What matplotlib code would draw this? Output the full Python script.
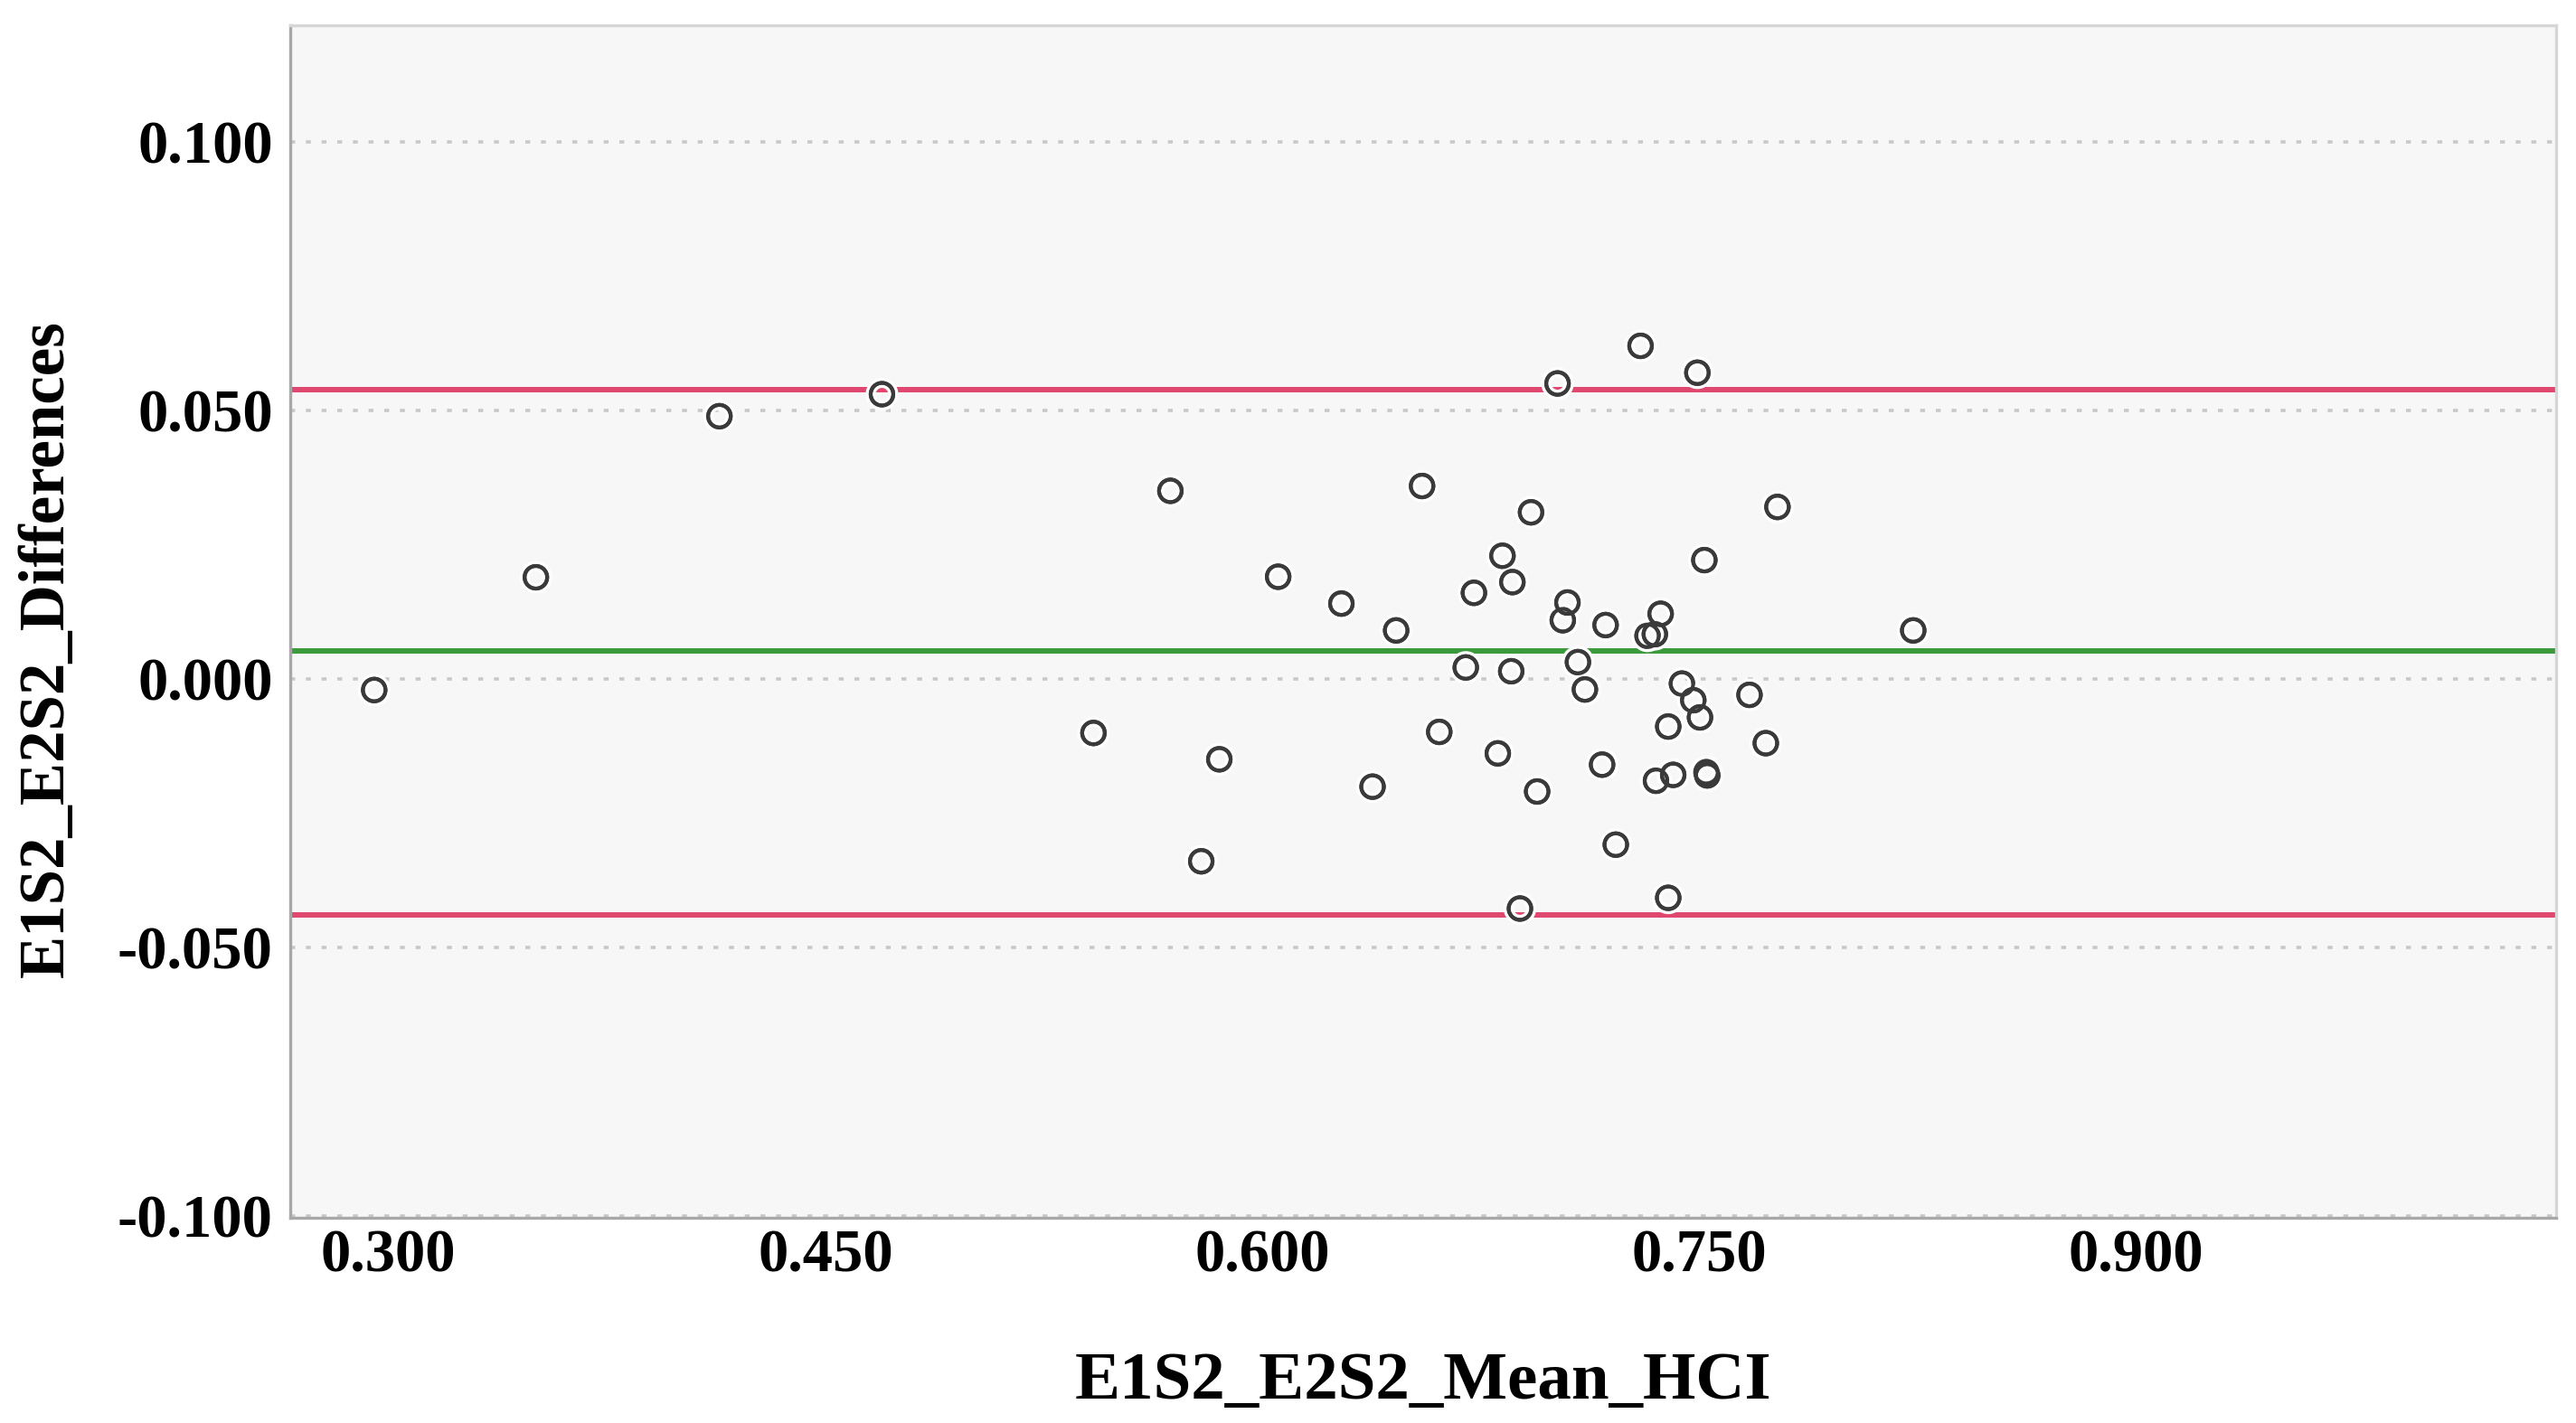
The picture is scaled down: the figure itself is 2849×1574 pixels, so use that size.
import matplotlib
matplotlib.use("Agg")
import matplotlib.pyplot as plt
import matplotlib.patheffects as pe

# Bland-Altman data
mean_hci = [0.2951, 0.3506, 0.4136, 0.4694, 0.5420, 0.5684, 0.5790, 0.5852, 0.6054, 0.6271,
            0.6378, 0.6459, 0.6548, 0.6607, 0.6698, 0.6726, 0.6808, 0.6824, 0.6854, 0.6858,
            0.6884, 0.6922, 0.6943, 0.7013, 0.7031, 0.7047, 0.7083, 0.7107, 0.7166, 0.7178,
            0.7213, 0.7298, 0.7322, 0.7347, 0.7351, 0.7367, 0.7393, 0.7393, 0.7410, 0.7440,
            0.7479, 0.7493, 0.7502, 0.7517, 0.7524, 0.7527, 0.7672, 0.7728, 0.7768, 0.8234]
differences = [-0.0020, 0.0190, 0.0490, 0.0531, -0.0100, 0.0351, -0.0339, -0.0149, 0.0191, 0.0141,
               -0.0200, 0.0091, 0.0360, -0.0098, 0.0022, 0.0161, -0.0138, 0.0230, 0.0015, 0.0181,
               -0.0427, 0.0311, -0.0209, 0.0551, 0.0110, 0.0143, 0.0032, -0.0019, -0.0159, 0.0101,
               -0.0308, 0.0621, 0.0081, 0.0084, -0.0189, 0.0122, -0.0088, -0.0407, -0.0178, -0.0008,
               -0.0039, 0.0571, -0.0071, 0.0222, -0.0173, -0.0179, -0.0029, -0.0119, 0.0321, 0.0091]
mean_diff = 0.0052
upper_loa = 0.0540
lower_loa = -0.0439

x_ticks = [0.300, 0.450, 0.600, 0.750, 0.900]
y_ticks = [-0.100, -0.050, 0.000, 0.050, 0.100]

plt.rcParams["font.family"] = ["Liberation Serif", "DejaVu Serif"]

fig = plt.figure(figsize=(28.49, 15.74), dpi=100)
ax = fig.add_axes([0.1127, 0.1442, 0.8796, 0.8380])
ax.set_facecolor("#f7f7f7")

ax.set_xlim(0.2663, 1.0441)
ax.set_ylim(-0.1003, 0.1218)

# dotted grid at the y ticks
ax.set_yticks(y_ticks)
ax.set_yticklabels([f"{v:.3f}" for v in y_ticks])
ax.set_xticks(x_ticks)
ax.set_xticklabels([f"{v:.3f}" for v in x_ticks])
ax.yaxis.grid(True, color="#c8c8c8", linewidth=2.6, linestyle=(0, (1.5, 3.3)))
ax.xaxis.grid(False)
ax.set_axisbelow(True)

ax.tick_params(axis="both", length=0, labelsize=48)
ax.tick_params(axis="y", pad=14)
ax.tick_params(axis="x", pad=9)
for lab in ax.get_xticklabels() + ax.get_yticklabels():
    lab.set_fontweight("bold")

for side in ["left", "bottom"]:
    ax.spines[side].set_color("#a8a8a8")
    ax.spines[side].set_linewidth(2.4)
for side in ["top", "right"]:
    ax.spines[side].set_color("#d6d6d6")
    ax.spines[side].set_linewidth(2.4)

# mean difference and limits of agreement
ax.axhline(upper_loa, color="#e0476f", linewidth=4.3, zorder=2)
ax.axhline(lower_loa, color="#e0476f", linewidth=4.3, zorder=2)
ax.axhline(mean_diff, color="#3b9a3b", linewidth=4.3, zorder=2)

pts = ax.scatter(mean_hci, differences, s=18 ** 2, facecolors="none",
                 edgecolors="#3a3a3a", linewidths=3.0, zorder=3)
pts.set_path_effects([pe.withStroke(linewidth=8, foreground="white"), pe.Normal()])

fig.text(0.5525, 0.0172, "E1S2_E2S2_Mean_HCI", ha="center", va="baseline",
         fontsize=54, fontweight="bold")
fig.text(0.0185, 0.5438, "E1S2_E2S2_Differences", ha="center", va="center",
         rotation=90, fontsize=51, fontweight="bold")

fig.savefig("out.png", dpi=100, facecolor="white")
